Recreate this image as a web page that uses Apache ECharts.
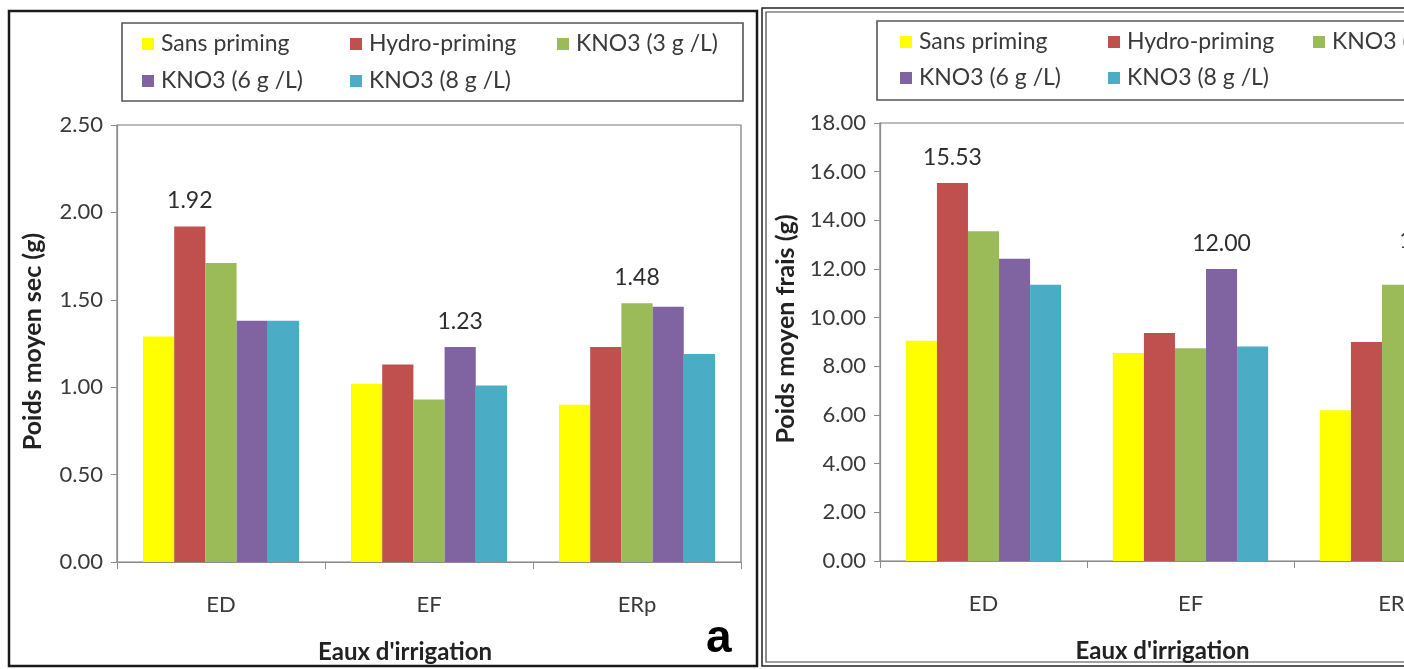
<!DOCTYPE html>
<html>
<head>
<meta charset="utf-8">
<script src="https://cdn.jsdelivr.net/npm/echarts@6/dist/echarts.min.js"></script>
<style>
  html, body { margin: 0; padding: 0; background: #fff; overflow: hidden; width: 1404px; height: 669px; }
  #c1 { position: absolute; left: 0; top: 0; width: 760px; height: 669px; }
  #c2 { position: absolute; left: 760px; top: 0; width: 760px; height: 669px; }
</style>
</head>
<body>
<div id="c1"></div>
<div id="c2"></div>
<script>
// ---- data ----
const categories = ['ED', 'EF', 'ERp'];
const seriesNames = ['Sans priming', 'Hydro-priming', 'KNO3 (3 g /L)', 'KNO3 (6 g /L)', 'KNO3 (8 g /L)'];
const seriesColors = ['#FFFF00', '#C0504D', '#9BBB59', '#8064A2', '#4BACC6'];

// Poids moyen sec (g)
const secSans  = [1.29, 1.02, 0.90];
const secHydro = [1.92, 1.13, 1.23];
const secK3    = [1.71, 0.93, 1.48];
const secK6    = [1.38, 1.23, 1.46];
const secK8    = [1.38, 1.01, 1.19];

// Poids moyen frais (g)
const fraisSans  = [9.05, 8.55, 6.20];
const fraisHydro = [15.53, 9.37, 9.00];
const fraisK3    = [13.55, 8.74, 11.35];
const fraisK6    = [12.42, 12.00, 12.10];
const fraisK8    = [11.35, 8.82, 10.50];

const yTicksSec = [0, 0.5, 1.0, 1.5, 2.0, 2.5];
const yTicksFrais = [0, 2, 4, 6, 8, 10, 12, 14, 16, 18];

const FONT = 'Lato';
const TXT = '#3a3a3a';

function buildSeries(valueSets) {
  // label only the highest bar of each category group
  const maxIdx = categories.map((_, ci) => {
    let best = 0;
    valueSets.forEach((vals, si) => { if (vals[ci] > valueSets[best][ci]) best = si; });
    return best;
  });
  return valueSets.map((vals, si) => ({
    name: seriesNames[si],
    type: 'bar',
    barGap: '0%',
    barCategoryGap: '25%',
    itemStyle: { color: seriesColors[si] },
    data: vals.map((v, ci) => ({
      value: v,
      label: {
        show: maxIdx[ci] === si,
        position: 'top',
        distance: 14,
        formatter: p => p.value.toFixed(2),
        fontFamily: FONT, fontSize: 23, color: '#2e2e2e'
      }
    }))
  }));
}

function buildLegends(x0, colXs, rowYs) {
  const pos = [[0, 0], [1, 0], [2, 0], [0, 1], [1, 1]];
  return seriesNames.map((n, i) => ({
    data: [n],
    left: x0 + colXs[pos[i][0]],
    top: rowYs[pos[i][1]] - 13,
    padding: 0,
    icon: 'rect',
    itemWidth: 12, itemHeight: 12,
    selectedMode: false,
    textStyle: { fontFamily: FONT, fontSize: 23, color: TXT, lineHeight: 26, padding: [0, 0, 0, 2] }
  }));
}

function buildOption(cfg) {
  return {
    animation: false,
    textStyle: { fontFamily: FONT },
    legend: buildLegends(cfg.legendX0, cfg.legendCols, cfg.legendRows),
    graphic: cfg.graphic,
    grid: {
      left: cfg.grid.left, top: cfg.grid.top, width: cfg.grid.width, height: cfg.grid.height,
      show: true, borderColor: '#7a7a7a', borderWidth: 1.2, backgroundColor: 'transparent'
    },
    xAxis: {
      type: 'category',
      data: categories,
      axisLine: { lineStyle: { color: '#8c8c8c', width: 1.2 } },
      axisTick: { show: true, alignWithLabel: false, length: 7, lineStyle: { color: '#8c8c8c' } },
      axisLabel: { margin: 32, fontFamily: FONT, fontSize: 22, color: TXT },
      name: "Eaux d'irrigation",
      nameLocation: 'middle',
      nameGap: 78,
      nameTextStyle: { fontFamily: FONT, fontSize: 24, fontWeight: 'bold', color: '#222', padding: cfg.xNamePad }
    },
    yAxis: {
      type: 'value',
      min: cfg.yTicks[0],
      max: cfg.yTicks[cfg.yTicks.length - 1],
      interval: cfg.yTicks[1] - cfg.yTicks[0],
      splitLine: { show: false },
      axisLine: { show: true, lineStyle: { color: '#8c8c8c', width: 1.2 } },
      axisTick: { show: true, inside: false, length: 6, lineStyle: { color: '#8c8c8c' } },
      axisLabel: { margin: 14, fontFamily: FONT, fontSize: 22, color: TXT, formatter: v => v.toFixed(2) },
      name: cfg.yName,
      nameLocation: 'middle',
      nameGap: cfg.yNameGap,
      nameTextStyle: { fontFamily: FONT, fontSize: 25, fontWeight: 'bold', color: '#222', padding: cfg.yNamePad }
    },
    series: buildSeries(cfg.values)
  };
}

// ---- left panel ----
const c1 = echarts.init(document.getElementById('c1'), null, { renderer: 'canvas' });
c1.setOption(buildOption({
  legendX0: 142, legendCols: [0, 208, 415], legendRows: [44, 81],
  grid: { left: 117, top: 125, width: 624, height: 438 },
  yTicks: yTicksSec,
  yName: 'Poids moyen sec (g)',
  yNameGap: 72,
  yNamePad: [0, 0, 0, 4],
  xNamePad: [0, 48, 0, 0],
  values: [secSans, secHydro, secK3, secK6, secK8],
  graphic: [
    { type: 'rect', shape: { x: 9, y: 11, width: 748, height: 655 }, style: { fill: 'none', stroke: '#1a1a1a', lineWidth: 2.5 }, z: -1 },
    { type: 'rect', shape: { x: 122, y: 23, width: 621, height: 78 }, style: { fill: 'none', stroke: '#555', lineWidth: 1.6 }, z: -1 },
    { type: 'text', left: 706, top: 616, style: { text: 'a', font: 'bold 46px "Liberation Sans", Arial, sans-serif', fill: '#000' } }
  ]
}));

// ---- right panel (cropped by the window edge) ----
const c2 = echarts.init(document.getElementById('c2'), null, { renderer: 'canvas' });
c2.setOption(buildOption({
  legendX0: 140, legendCols: [0, 208, 413], legendRows: [42, 78],
  grid: { left: 120, top: 123, width: 621, height: 438 },
  yTicks: yTicksFrais,
  yName: 'Poids moyen frais (g)',
  yNameGap: 82,
  yNamePad: [0, 0, 0, 26],
  xNamePad: [0, 56, 0, 0],
  values: [fraisSans, fraisHydro, fraisK3, fraisK6, fraisK8],
  graphic: [
    { type: 'rect', shape: { x: 2, y: 8, width: 748, height: 658 }, style: { fill: 'none', stroke: '#222', lineWidth: 1.5 }, z: -1 },
    { type: 'rect', shape: { x: 6, y: 12, width: 740, height: 650 }, style: { fill: 'none', stroke: '#444', lineWidth: 1.2 }, z: -1 },
    { type: 'rect', shape: { x: 117, y: 21, width: 621, height: 79 }, style: { fill: 'none', stroke: '#555', lineWidth: 1.6 }, z: -1 }
  ]
}));
</script>
</body>
</html>
